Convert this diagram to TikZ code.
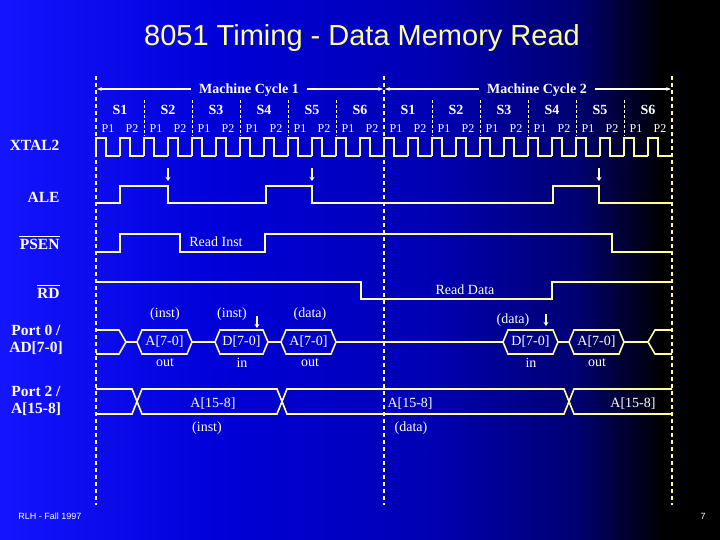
\documentclass[tikz,border=0pt]{standalone}
\usepackage{fontspec}
\usetikzlibrary{arrows.meta}
\setmainfont{Liberation Serif}
\newfontfamily\arialf{Liberation Sans}
\begin{document}
\pgfdeclarehorizontalshading{bgsh}{100bp}{color(0bp)=(blue!92!white);color(25bp)=(blue!92!white);color(40bp)=(blue!85!black);color(55bp)=(blue!70!black);color(65bp)=(blue!45!black);color(71bp)=(black);color(100bp)=(black)}
\definecolor{sig}{HTML}{FFFF99}
\definecolor{ttl}{HTML}{FFFF99}
\begin{tikzpicture}[x=1pt,y=-1pt,
  sg/.style={draw=sig,line width=1.6pt,line join=miter},
  lab/.style={text=white,font=\fontsize{15.5}{17}\selectfont\bfseries},
  sl/.style={text=white,font=\fontsize{14}{15}\selectfont\bfseries},
  pl/.style={text=white,font=\fontsize{12}{13}\selectfont},
  tx/.style={text=white,font=\fontsize{14}{15}\selectfont},
  dl/.style={draw=sig,line width=1.3pt,dash pattern=on 4pt off 3pt},
  dls/.style={draw=white,line width=1pt,dash pattern=on 3pt off 2pt},
  ma/.style={draw=white,line width=1.2pt},
  ar/.style={draw=white,line width=1.2pt,-{Stealth[length=4pt,width=5pt]}}]
\shade[shading=bgsh] (0,0) rectangle (720,540);
\useasboundingbox (0,0) rectangle (720,540);
\node[text=ttl,font=\arialf\fontsize{29}{30}\selectfont] (title) at (362,38) {8051 Timing - Data Memory Read};
% machine cycles
\node[sl,inner xsep=8pt,inner ysep=2pt] (mc1) at (249,90) {Machine Cycle 1};
\node[sl,inner xsep=8pt,inner ysep=2pt] (mc2) at (537,90) {Machine Cycle 2};
\coordinate (a0) at (97,89); \coordinate (a1) at (383,89);
\coordinate (b0) at (385,89); \coordinate (b1) at (671,89);
\draw[ma,{Stealth[length=5pt]}-] (a0) -- (mc1.west |- a0);
\draw[ma,-{Stealth[length=5pt]}] (mc1.east |- a0) -- (a1);
\draw[ma,{Stealth[length=5pt]}-] (b0) -- (mc2.west |- b0);
\draw[ma,-{Stealth[length=5pt]}] (mc2.east |- b0) -- (b1);
\foreach \k in {0,...,11}{
  \pgfmathtruncatemacro{\s}{mod(\k,6)+1}
  \node[sl] at (120+48*\k,110) {S\s};
  \node[pl] at (108+48*\k,129) {P1};
  \node[pl] at (132+48*\k,129) {P2};
}
\foreach \k in {1,2,3,4,5,7,8,9,10,11}{
  \draw[dls] (96+48*\k,100) -- (96+48*\k,136);
}
\foreach \x in {96,384,672}{ \draw[dl] (\x,76) -- (\x,505); }
% left labels
\node[lab,anchor=east] (x2) at (63,145) {XTAL2};
\node[lab,anchor=east] (ale) at (63,197) {ALE};
\node[lab,anchor=east] (psen) at (63,244) {PSEN};
\draw[white,line width=1.2pt] ([yshift=-1pt]psen.north west) ++(3,0) -- ([yshift=-1pt,xshift=-3pt]psen.north east);
\node[lab,anchor=east] (rd) at (63,293) {RD};
\draw[white,line width=1.2pt] ([yshift=-1pt]rd.north west) ++(3,0) -- ([yshift=-1pt,xshift=-3pt]rd.north east);
\node[lab,align=center] (p0) at (36,340) {Port 0 /\\AD[7-0]};
\node[lab,align=center] (p2) at (36,401) {Port 2 /\\A[15-8]};
% clock
\foreach \j in {0,...,23}{
  \draw[sg] (96+24*\j,156) -- (96+24*\j,138) -- (106+24*\j,138) -- (106+24*\j,156) -- (120+24*\j,156);
}
% ALE
\draw[sg] (96,203) -- (120,203) -- (120,186) -- (168,186) -- (168,203) -- (266,203) -- (266,186) -- (312,186) -- (312,203)
  -- (553,203) -- (553,186) -- (599,186) -- (599,203) -- (672,203);
\draw[ar] (168,168) -- (168,181);
\draw[ar] (312,168) -- (312,181);
\draw[ar] (599,168) -- (599,181);
% PSEN
\draw[sg] (96,252) -- (120,252) -- (120,234) -- (180,234) -- (180,252) -- (265,252) -- (265,234) -- (612,234) -- (612,252) -- (672,252);
\node[tx] (ri) at (216,242) {Read Inst};
% RD
\draw[sg] (96,282) -- (361,282) -- (361,299) -- (552,299) -- (552,282) -- (672,282);
\node[tx] (rdd) at (465,290) {Read Data};
% Port 0
\newcommand{\hexa}[3]{\draw[sg] (#1,342) -- (#1+5,330) -- (#2-5,330) -- (#2,342) -- (#2-5,354) -- (#1+5,354) -- cycle;
  \node[tx,inner sep=0pt] at ({(#1+#2)/2},342) {#3};}
\draw[sg] (96,330) -- (119,330) -- (126,342) -- (119,354) -- (96,354);
\draw[sg] (126,342) -- (137,342);
\hexa{137}{192}{A[7-0]}
\draw[sg] (192,342) -- (215,342);
\hexa{215}{268}{D[7-0]}
\draw[sg] (268,342) -- (281,342);
\hexa{281}{336}{A[7-0]}
\draw[sg] (336,342) -- (503,342);
\hexa{503}{558}{D[7-0]}
\draw[sg] (558,342) -- (569,342);
\hexa{569}{624}{A[7-0]}
\draw[sg] (624,342) -- (648,342) -- (655,330) -- (672,330);
\draw[sg] (648,342) -- (655,354) -- (672,354);
\node[tx] at (165,314) {(inst)};
\node[tx] at (232,314) {(inst)};
\node[tx] at (310,314) {(data)};
\node[tx] at (513,320) {(data)};
\draw[ar] (257,316) -- (257,328);
\draw[ar] (546,314) -- (546,326);
\node[tx] at (165,363) {out};
\node[tx] at (242,363) {in};
\node[tx] at (310,363) {out};
\node[tx] at (531,363) {in};
\node[tx] at (597,363) {out};
% Port 2
\draw[sg] (96,389) -- (132,389) -- (142,414) -- (277,414) -- (287,389) -- (564,389) -- (574,414) -- (672,414);
\draw[sg] (96,414) -- (132,414) -- (142,389) -- (277,389) -- (287,414) -- (564,414) -- (574,389) -- (672,389);
\node[tx] at (213,404) {A[15-8]};
\node[tx] at (207,428) {(inst)};
\node[tx,anchor=west] at (384,404) {A[15-8]};
\node[tx] at (411,428) {(data)};
\node[tx] at (633,404) {A[15-8]};
% footer
\node[text=white,font=\arialf\fontsize{9}{10}\selectfont] (ft) at (50,516) {RLH - Fall 1997};
\node[text=white,font=\arialf\fontsize{9}{10}\selectfont] (pg) at (703,516) {7};
\end{tikzpicture}
\end{document}
